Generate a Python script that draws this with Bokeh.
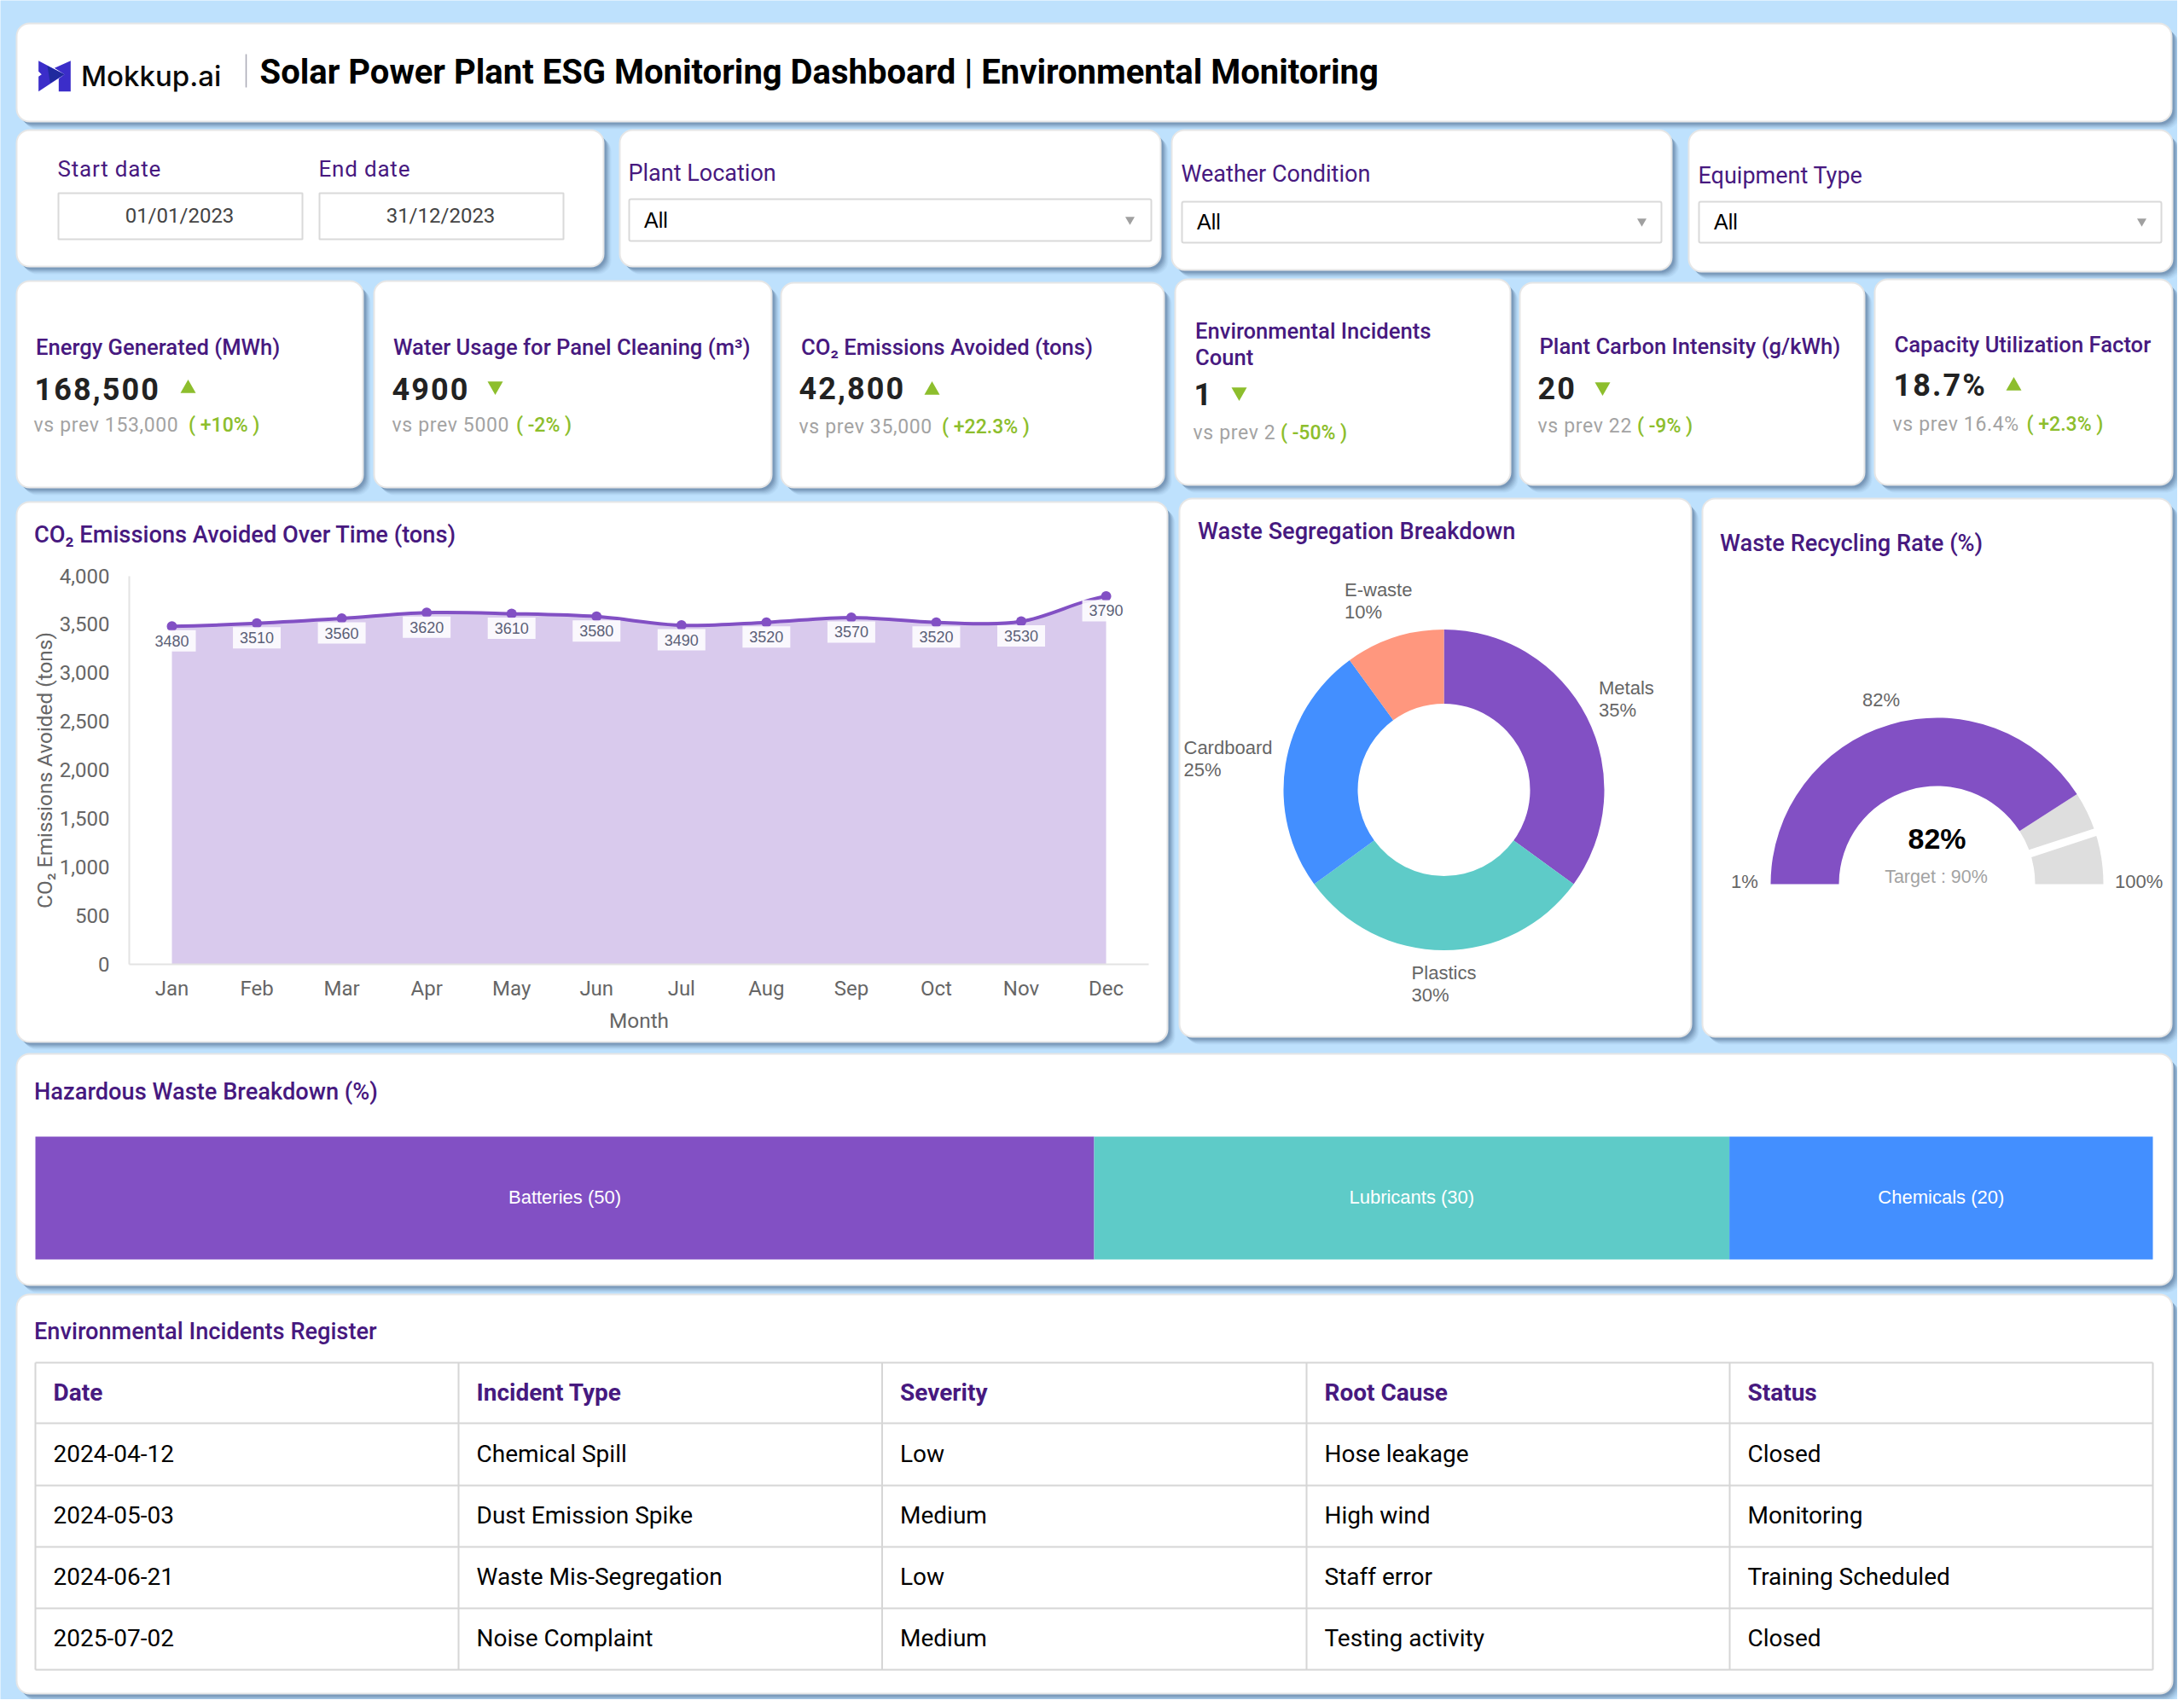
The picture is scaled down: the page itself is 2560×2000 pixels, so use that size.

from bokeh.embed import file_html
from bokeh.io import curdoc
from bokeh.resources import INLINE
from bokeh.plotting import figure
from bokeh.models import Range1d, LinearAxis, FixedTicker, NumeralTickFormatter, CustomJS
from bokeh.core.properties import value
import numpy as np

# ---------- data ----------
months = ["Jan","Feb","Mar","Apr","May","Jun","Jul","Aug","Sep","Oct","Nov","Dec"]
co2_avoided = [3480,3510,3560,3620,3610,3580,3490,3520,3570,3520,3530,3790]
y_ticks = [0,500,1000,1500,2000,2500,3000,3500,4000]

waste_names = ["Metals","Plastics","Cardboard","E-waste"]
waste_values = [35,30,25,10]
gauge_min, gauge_value, gauge_target, gauge_max = 1, 82, 90, 100

hazard_names = ["Batteries","Lubricants","Chemicals"]
hazard_values = [50,30,20]

kpi_titles = [["Energy Generated (MWh)"],["Water Usage for Panel Cleaning (m³)"],["CO₂ Emissions Avoided (tons)"],
              ["Environmental Incidents","Count"],["Plant Carbon Intensity (g/kWh)"],["Capacity Utilization Factor"]]
kpi_values = ["168,500","4900","42,800","1","20","18.7%"]
kpi_prev = ["vs prev 153,000","vs prev 5000","vs prev 35,000","vs prev 2","vs prev 22","vs prev 16.4%"]
kpi_delta = ["( +10% )","( -2% )","( +22.3% )","( -50% )","( -9% )","( +2.3% )"]
kpi_up = [True,False,True,False,False,True]

table_head = ["Date","Incident Type","Severity","Root Cause","Status"]
col_date = ["2024-04-12","2024-05-03","2024-06-21","2025-07-02"]
col_type = ["Chemical Spill","Dust Emission Spike","Waste Mis-Segregation","Noise Complaint"]
col_sev = ["Low","Medium","Low","Medium"]
col_cause = ["Hose leakage","High wind","Staff error","Testing activity"]
col_status = ["Closed","Monitoring","Training Scheduled","Closed"]

# ---------- style ----------
BG="#BEE1FD"; INK="#47197F"; PURPLE="#8250C4"; TEAL="#5ECBC8"; BLUE="#438FFF"; SALMON="#FF977E"
GREEN="#8DBE2D"; GREY="#A3A3A3"; LINE="#D6D6D6"; AXTXT="#666666"
RB="Roboto"; RM="Roboto Medium"; LS="Liberation Sans"
BASE_K=0.36   # the text glyph's "alphabetic" box sits this many ems below the real baseline

W,H=2552,1992
p=figure(width=W,height=H,output_backend="svg",toolbar_location=None,
         x_range=Range1d(0,W),y_range=Range1d(-H,0),
         x_axis_type=None,y_axis_type=None,min_border=0,outline_line_color=None,
         background_fill_color=BG,border_fill_color=BG)
p.grid.visible=False

def text(x,y,s,size,color="#000000",font=RB,style="normal",align="left",**kw):
    dx=-1.5 if align=="left" else 0
    p.text(x=[x+dx],y=[-(y-BASE_K*size)],text=[s],text_font=value(font),text_font_size=f"{size}px",text_color=color,
           text_font_style=style,text_align=align,text_baseline="alphabetic",**kw)

def card(l,t,r,b):
    for off,a in [(9,.05),(8,.06),(7,.08),(6,.10),(5,.12),(4,.14),(3,.16)]:
        p.quad(left=[l+off-1],right=[r+off],top=[-(t+off)],bottom=[-(b+off)],border_radius=16,
               fill_color="#3F5F80",fill_alpha=a,line_color=None)
    p.quad(left=[l],right=[r],top=[-t],bottom=[-b],border_radius=15,fill_color="#FFFFFF",
           line_color="#E6E6E6",line_width=2)

def box(l,t,r,b,rad=2):
    p.quad(left=[l],right=[r],top=[-t],bottom=[-b],border_radius=rad,fill_color="#FFFFFF",
           line_color="#D9D9D9",line_width=2)

# ---------- cards ----------
cards=[(19,27,2545,142),(19,152,707,312),(726,152,1360,312),(1373,152,1959,316),(1979,152,2546,318),
       (19,329,425,571),(438,329,904,571),(915,331,1364,571),(1377,327,1770,568),(1781,331,2185,568),(2197,327,2546,568),
       (19,588,1368,1221),(1382,584,1982,1215),(1995,584,2545,1215),(19,1235,2546,1506),(19,1517,2546,1985)]
for c in cards: card(*c)

# ---------- header ----------
p.patch(x=[44/3+30,135/3+30,44/3+30,44/3+30,55/3+30,44/3+30],
        y=[-(50+62/3),-(50+110/3),-(50+170/3),-(50+118/3),-(50+110/3),-(50+100/3)],
        fill_color="#3B2DC9",line_color=None)
p.patch(x=[157/3+30,100/3+30,135/3+30,115/3+30,115/3+30,157/3+30],
        y=[-(50+62/3),-(50+88/3),-(50+110/3),-(50+125/3),-(50+170/3),-(50+170/3)],
        fill_color="#3B2DC9",line_color=None)
p.patch(x=[75/3+30,135/3+30,85/3+30],y=[-(50+80/3),-(50+110/3),-(50+140/3)],fill_color="#1F2A9E",line_color=None)
text(96,100,"Mokkup.ai",33,"#0A0A0A","Inter Medium","normal")
p.segment(x0=[288],x1=[288],y0=[-63],y1=[-102],line_color="#A9A9B5",line_width=1.5)
text(305.5,98.5,"Solar Power Plant ESG Monitoring Dashboard | Environmental Monitoring",40,"#000000",RB,"bold")

# ---------- filters ----------
text(68.5,207,"Start date",26,INK); text(374.5,207,"End date",26,INK)
box(68,226,354,280,0); box(374,226,660,280,0)
text(210,261,"01/01/2023",24,"#444444",align="center"); text(516,261,"31/12/2023",24,"#444444",align="center")
filters=[("Plant Location",737.5,212,737,233,1349,282,756,266,1324,257),
         ("Weather Condition",1385.5,213.5,1385,236,1947,284,1404,268,1924,259),
         ("Equipment Type",1991.5,215.5,1991,236,2533,284,2010,268,2510,259)]
for name,lx,ly,l,t,r,b,ax,ay,tx,ty in filters:
    text(lx,ly,name,27,INK)
    box(l,t,r,b)
    text(ax,ay,"All",25,"#000000",LS)
    p.scatter(x=[tx],y=[-ty],marker="inverted_triangle",size=11,fill_color="#A0A0A0",line_color=None)

# ---------- KPI cards ----------
kpi_pos=[ # title x, title baselines, value x, value y, arrow x, arrow y, prev x, prev y, delta x
 (43,[416],41.5,468,220,455,40.5,506,222),
 (462,[416],460.5,468,580,452,460.5,506,606),
 (940,[416],937.5,467,1092,457,937.5,508,1105),
 (1402,[397,428],1400.5,474,1452,459,1399.5,515,1502),
 (1805.5,[415],1803.5,467,1878,453,1803.5,507,1920),
 (2221.5,[413],2220.5,464,2360,452,2219.5,505,2376.5)]
for i,(tx,tys,vx,vy,ax,ay,px,py,dx) in enumerate(kpi_pos):
    for ty,line in zip(tys,kpi_titles[i]): text(tx,ty,line,25.6,INK,RM)
    text(vx,vy,kpi_values[i],36,"#222222",RB,"bold")
    p.scatter(x=[ax],y=[-ay],marker="triangle" if kpi_up[i] else "inverted_triangle",size=18,fill_color=GREEN,line_color=None)
    text(px,py,kpi_prev[i],23,GREY)
    text(dx,py,kpi_delta[i],23,GREEN,RM)

# ---------- area / line chart ----------
PX0,PXSTEP=201.0,99.55          # pixel of Jan, pixels per month
PY0,PYUNIT=1130.0,455.5/4000    # pixel of value 0, pixels per unit
p.extra_x_ranges["line_x"]=Range1d((0-PX0)/PXSTEP,(W-PX0)/PXSTEP)
p.extra_y_ranges["line_y"]=Range1d((PY0-H)/PYUNIT,PY0/PYUNIT)
idx=np.arange(len(months)); v=np.array(co2_avoided,dtype=float)
rng=dict(x_range_name="line_x",y_range_name="line_y")
p.varea(x=idx,y1=np.zeros_like(v),y2=v,fill_color=PURPLE,fill_alpha=.3,**rng)
# smooth line: one Bezier per month-to-month span, handles derived from neighbours
pv=np.r_[v[0],v[:-1]]; nv=np.r_[v[1:],v[-1]]
p.bezier(x0=idx[:-1],y0=v[:-1],x1=idx[1:],y1=v[1:],cx0=idx[:-1]+.33,cy0=v[:-1]+(nv[:-1]-pv[:-1])/6,
         cx1=idx[1:]-.33,cy1=v[1:]-(nv[1:]-pv[1:])/6,line_color=PURPLE,line_width=4,**rng)
p.scatter(x=idx,y=v,size=12,fill_color=PURPLE,line_color=None,**rng)
drop=17/PYUNIT
p.rect(x=idx,y=v-drop,width=56,height=25,width_units="screen",height_units="screen",fill_color="#FFFFFF",fill_alpha=.87,line_color=None,**rng)
p.text(x=idx,y=v-drop,text=[str(int(a)) for a in co2_avoided],text_font=value(LS),text_font_size="18px",text_color="#5B5F77",
       text_align="center",text_baseline="middle",**rng)

yax=LinearAxis(y_range_name="line_y",fixed_location=151,bounds=(0,4000),ticker=FixedTicker(ticks=y_ticks),
               formatter=NumeralTickFormatter(format="0,0"),axis_label="CO₂ Emissions Avoided (tons)")
xax=LinearAxis(x_range_name="line_x",fixed_location=-1130,bounds=(-.5,11.5),ticker=FixedTicker(ticks=list(range(12))),
               major_label_overrides={i:m for i,m in enumerate(months)},axis_label="Month")
for ax in (yax,xax):
    ax.axis_line_color="#E3E3E3"; ax.axis_line_width=2
    ax.major_tick_line_color=None; ax.minor_tick_line_color=None
    ax.major_label_text_font=RB; ax.major_label_text_font_size="24px"; ax.major_label_text_color=AXTXT
    ax.axis_label_text_font=RB; ax.axis_label_text_font_size="24.4px"; ax.axis_label_text_color=AXTXT
    ax.axis_label_text_font_style="normal"
yax.major_label_standoff=17; xax.major_label_standoff=8
yax.axis_label_standoff=0; xax.axis_label_standoff=6
p.add_layout(yax,"left"); p.add_layout(xax,"below")
text(41,636,"CO₂ Emissions Avoided Over Time (tons)",27.2,INK,RM)

# ---------- donut ----------
text(1405,632,"Waste Segregation Breakdown",27.2,INK,RM)
cx,cy,ro,ri=1692,-925.5,188,101
w=np.array(waste_values,dtype=float); frac=np.cumsum(np.r_[0,w])/w.sum()
ang=np.pi/2-2*np.pi*frac
p.annular_wedge(x=[cx]*4,y=[cy]*4,inner_radius=ri,outer_radius=ro,inner_radius_units="screen",outer_radius_units="screen",
                start_angle=ang[:-1],end_angle=ang[1:],direction="clock",fill_color=[PURPLE,TEAL,BLUE,SALMON],line_color=None)
donut_lbl=[(1875,813.5),(1655.6,1148),(1388.5,883.5),(1577,699)]
for (lx,ly),n,val in zip(donut_lbl,waste_names,waste_values):
    text(lx,ly,n,22,AXTXT,LS); text(lx,ly+26,f"{val}%",22,AXTXT,LS)

# ---------- gauge ----------
text(2017,646,"Waste Recycling Rate (%)",27.2,INK,RM)
gx,gy,gro,gri=2270,-1036,195,115
def g_ang(val): return np.pi-np.pi*(val-gauge_min)/(gauge_max-gauge_min)
kw=dict(x=[gx],y=[gy],inner_radius=gri,outer_radius=gro,inner_radius_units="screen",outer_radius_units="screen",direction="clock",line_color=None)
p.annular_wedge(start_angle=[g_ang(gauge_value)],end_angle=[0],fill_color="#DEDEDE",**kw)
p.annular_wedge(start_angle=[np.pi],end_angle=[g_ang(gauge_value)],fill_color=PURPLE,**kw)
ta=g_ang(gauge_target)
p.segment(x0=[gx+(gri-8)*np.cos(ta)],y0=[gy+(gri-8)*np.sin(ta)],x1=[gx+(gro+8)*np.cos(ta)],y1=[gy+(gro+8)*np.sin(ta)],line_color="#FFFFFF",line_width=9)
text(2270,994.6,f"{gauge_value}%",34,"#000000",LS,"bold",align="center")
text(2269,1035,f"Target : {gauge_target}%",21.5,GREY,LS,align="center")
text(2184,827.5,f"{gauge_value}%",22,AXTXT,LS)
text(2030,1041,f"{gauge_min}%",22,AXTXT,LS); text(2480,1041,f"{gauge_max}%",22,AXTXT,LS)

# ---------- hazardous strip ----------
text(41,1289,"Hazardous Waste Breakdown (%)",27.2,INK,RM)
HX0,HXU=41.0,(2523-41)/100
p.extra_x_ranges["haz_x"]=Range1d((0-HX0)/HXU,(W-HX0)/HXU)
hv=np.array(hazard_values,dtype=float); hr=np.cumsum(hv); hl=hr-hv
p.quad(left=hl,right=hr,top=[-1332]*3,bottom=[-1476]*3,fill_color=[PURPLE,TEAL,BLUE],line_color=None,x_range_name="haz_x")
p.text(x=(hl+hr)/2,y=[-1403]*3,text=[f"{n} ({int(a)})" for n,a in zip(hazard_names,hazard_values)],x_range_name="haz_x",
       text_font=value(LS),text_font_size="22px",text_color="#FFFFFF",text_align="center",text_baseline="middle")

# ---------- table ----------
text(41,1570,"Environmental Incidents Register",27.2,INK,RM)
col_x=[41,537,1033.5,1531,2027,2523]; row_y=[1597,1668,1741,1813,1885,1957]
p.segment(x0=col_x,x1=col_x,y0=[-row_y[0]]*6,y1=[-row_y[-1]]*6,line_color=LINE,line_width=2)
p.segment(x0=[41]*6,x1=[2523]*6,y0=[-r for r in row_y],y1=[-r for r in row_y],line_color=LINE,line_width=2)
head_base=1642; row_base=[1714,1786,1858,1930]
for j,(h,col) in enumerate(zip(table_head,[col_date,col_type,col_sev,col_cause,col_status])):
    tx=col_x[j]+22.5
    text(tx,head_base,h,28,INK,RB,"bold")
    for b,val in zip(row_base,col): text(tx,b,val,28,"#000000")

# ---------- letter spacing (the reference tracks a few of its texts) ----------
spacing={s:2.1 for s in kpi_values}
spacing.update({s:0.65 for s in kpi_prev})
spacing.update({"Start date":0.8,"End date":0.8})
doc=curdoc()
doc.add_root(p)
doc.js_on_event("document_ready",CustomJS(args=dict(spacing=spacing),code="""
function walk(root){
  root.querySelectorAll('*').forEach(e=>{
    if(e.shadowRoot) walk(e.shadowRoot);
    if(e.tagName==='text' && spacing[e.textContent]!==undefined) e.setAttribute('letter-spacing',spacing[e.textContent]+'px');
  });
}
[0,100,400,1000].forEach(t=>setTimeout(()=>walk(document.body),t));
"""))

open("out.html","w").write(file_html(p,INLINE))
